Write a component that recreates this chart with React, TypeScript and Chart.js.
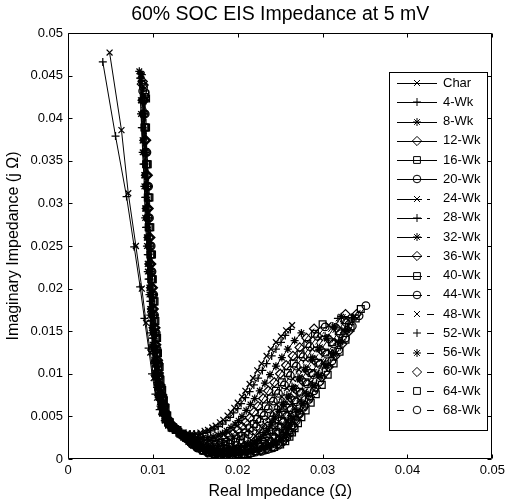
import React, { useEffect, useRef } from 'react';
import { Chart, registerables } from 'chart.js';
import { drawPoint } from 'chart.js/helpers';

Chart.register(...registerables);

const FONT = 'Arial, "Liberation Sans", Helvetica, sans-serif';

const TITLE = '60% SOC EIS Impedance at 5 mV';
const X_LABEL = 'Real Impedance (Ω)';
const Y_LABEL = 'Imaginary Impedance (j Ω)';

const X_TICKS = [0, 0.01, 0.02, 0.03, 0.04, 0.05];
const X_TICK_LABELS = ['0', '0.01', '0.02', '0.03', '0.04', '0.05'];
const Y_TICKS = [0, 0.005, 0.01, 0.015, 0.02, 0.025, 0.03, 0.035, 0.04, 0.045, 0.05];
const Y_TICK_LABELS = ['0', '0.005', '0.01', '0.015', '0.02', '0.025', '0.03', '0.035', '0.04', '0.045', '0.05'];

type Pt = [number, number];

const CHAR: Pt[] = [[0.0049,0.0477],[0.0063,0.0386],[0.0071,0.0312],[0.0080,0.0250],[0.0087,0.0200],[0.0092,0.0160],[0.0097,0.0125],[0.0101,0.0095],[0.0105,0.0072],[0.0110,0.0055],[0.0117,0.0043],[0.0126,0.0035],[0.0131,0.0033],[0.0136,0.0031],[0.0141,0.0030],[0.0146,0.0030],[0.0151,0.0030],[0.0156,0.0031],[0.0161,0.0033],[0.0165,0.0034],[0.0170,0.0037],[0.0174,0.0039],[0.0179,0.0043],[0.0183,0.0046],[0.0188,0.0051],[0.0192,0.0055],[0.0196,0.0060],[0.0200,0.0066],[0.0205,0.0073],[0.0209,0.0080],[0.0214,0.0088],[0.0218,0.0095],[0.0223,0.0104],[0.0228,0.0112],[0.0234,0.0121],[0.0239,0.0129],[0.0245,0.0137],[0.0251,0.0144],[0.0257,0.0151],[0.0264,0.0157]];
const WK4: Pt[] = [[0.0041,0.0466],[0.0056,0.0379],[0.0069,0.0308],[0.0078,0.0249],[0.0085,0.0202],[0.0090,0.0165],[0.0095,0.0130],[0.0099,0.0100],[0.0103,0.0076],[0.0108,0.0058],[0.0115,0.0045],[0.0124,0.0036],[0.0129,0.0033],[0.0134,0.0031],[0.0139,0.0030],[0.0144,0.0029],[0.0149,0.0029],[0.0154,0.0029],[0.0159,0.0030],[0.0164,0.0031],[0.0168,0.0033],[0.0173,0.0035],[0.0177,0.0038],[0.0182,0.0041],[0.0186,0.0045],[0.0191,0.0049],[0.0195,0.0054],[0.0200,0.0059],[0.0204,0.0065],[0.0209,0.0072],[0.0214,0.0079],[0.0219,0.0087],[0.0224,0.0095],[0.0229,0.0104],[0.0234,0.0112],[0.0240,0.0121],[0.0245,0.0129],[0.0251,0.0137],[0.0256,0.0145],[0.0262,0.0152]];
const WK8: Pt[] = [[0.0084,0.0455],[0.0086,0.0405],[0.0088,0.0360],[0.0090,0.0320],[0.0091,0.0283],[0.0093,0.0250],[0.0094,0.0220],[0.0096,0.0193],[0.0097,0.0169],[0.0099,0.0148],[0.0100,0.0129],[0.0102,0.0112],[0.0103,0.0097],[0.0105,0.0084],[0.0107,0.0072],[0.0109,0.0062],[0.0111,0.0053],[0.0114,0.0045],[0.0118,0.0039],[0.0123,0.0035],[0.0130,0.0031],[0.0135,0.0029],[0.0141,0.0027],[0.0147,0.0026],[0.0153,0.0025],[0.0159,0.0025],[0.0165,0.0025],[0.0171,0.0026],[0.0177,0.0028],[0.0182,0.0030],[0.0187,0.0033],[0.0192,0.0037],[0.0197,0.0041],[0.0201,0.0045],[0.0205,0.0050],[0.0210,0.0057],[0.0215,0.0064],[0.0220,0.0071],[0.0226,0.0080],[0.0232,0.0089],[0.0238,0.0099],[0.0245,0.0109],[0.0252,0.0119],[0.0259,0.0129],[0.0267,0.0139],[0.0275,0.0148]];
const WK12: Pt[] = [[0.0087,0.0440],[0.0088,0.0421],[0.0090,0.0374],[0.0092,0.0333],[0.0093,0.0294],[0.0095,0.0260],[0.0096,0.0229],[0.0098,0.0201],[0.0099,0.0176],[0.0101,0.0154],[0.0102,0.0134],[0.0104,0.0116],[0.0105,0.0101],[0.0107,0.0087],[0.0109,0.0075],[0.0111,0.0064],[0.0113,0.0055],[0.0116,0.0047],[0.0120,0.0041],[0.0125,0.0036],[0.0131,0.0031],[0.0136,0.0028],[0.0142,0.0026],[0.0148,0.0024],[0.0154,0.0023],[0.0160,0.0022],[0.0166,0.0021],[0.0172,0.0021],[0.0178,0.0022],[0.0184,0.0024],[0.0190,0.0027],[0.0195,0.0030],[0.0200,0.0034],[0.0205,0.0038],[0.0209,0.0043],[0.0214,0.0048],[0.0219,0.0055],[0.0224,0.0062],[0.0230,0.0071],[0.0236,0.0080],[0.0243,0.0090],[0.0250,0.0100],[0.0257,0.0110],[0.0265,0.0121],[0.0273,0.0131],[0.0281,0.0142],[0.0290,0.0153]];
const WK16: Pt[] = [[0.0090,0.0425],[0.0090,0.0389],[0.0092,0.0346],[0.0094,0.0307],[0.0095,0.0272],[0.0097,0.0240],[0.0098,0.0211],[0.0100,0.0185],[0.0101,0.0162],[0.0103,0.0142],[0.0104,0.0124],[0.0106,0.0108],[0.0107,0.0093],[0.0109,0.0081],[0.0111,0.0069],[0.0113,0.0060],[0.0115,0.0051],[0.0118,0.0043],[0.0122,0.0037],[0.0127,0.0034],[0.0133,0.0030],[0.0138,0.0027],[0.0144,0.0024],[0.0150,0.0022],[0.0156,0.0020],[0.0162,0.0019],[0.0168,0.0018],[0.0174,0.0018],[0.0180,0.0019],[0.0186,0.0020],[0.0192,0.0022],[0.0198,0.0024],[0.0204,0.0027],[0.0209,0.0031],[0.0214,0.0036],[0.0219,0.0041],[0.0223,0.0047],[0.0228,0.0054],[0.0233,0.0062],[0.0239,0.0071],[0.0245,0.0080],[0.0252,0.0090],[0.0259,0.0101],[0.0266,0.0112],[0.0274,0.0123],[0.0282,0.0135],[0.0291,0.0147],[0.0300,0.0158]];
const WK20: Pt[] = [[0.0088,0.0432],[0.0089,0.0405],[0.0091,0.0360],[0.0093,0.0320],[0.0094,0.0283],[0.0096,0.0250],[0.0097,0.0220],[0.0099,0.0193],[0.0100,0.0169],[0.0102,0.0148],[0.0103,0.0129],[0.0105,0.0112],[0.0106,0.0097],[0.0108,0.0084],[0.0110,0.0072],[0.0112,0.0062],[0.0114,0.0053],[0.0117,0.0045],[0.0121,0.0039],[0.0126,0.0035],[0.0132,0.0030],[0.0137,0.0027],[0.0143,0.0024],[0.0149,0.0021],[0.0155,0.0019],[0.0161,0.0017],[0.0167,0.0016],[0.0173,0.0016],[0.0179,0.0016],[0.0185,0.0017],[0.0191,0.0018],[0.0197,0.0020],[0.0203,0.0022],[0.0208,0.0025],[0.0213,0.0029],[0.0218,0.0033],[0.0222,0.0038],[0.0226,0.0044],[0.0231,0.0051],[0.0236,0.0059],[0.0242,0.0068],[0.0248,0.0077],[0.0255,0.0087],[0.0262,0.0098],[0.0269,0.0109],[0.0277,0.0120],[0.0285,0.0132],[0.0294,0.0144],[0.0303,0.0155]];
const WK24: Pt[] = [[0.0085,0.0450],[0.0086,0.0421],[0.0088,0.0374],[0.0090,0.0333],[0.0091,0.0294],[0.0093,0.0260],[0.0094,0.0229],[0.0096,0.0201],[0.0097,0.0176],[0.0099,0.0154],[0.0100,0.0134],[0.0102,0.0116],[0.0103,0.0101],[0.0105,0.0087],[0.0107,0.0075],[0.0109,0.0064],[0.0111,0.0055],[0.0114,0.0047],[0.0118,0.0041],[0.0123,0.0036],[0.0130,0.0030],[0.0135,0.0027],[0.0141,0.0024],[0.0147,0.0021],[0.0153,0.0018],[0.0159,0.0015],[0.0165,0.0014],[0.0171,0.0013],[0.0177,0.0013],[0.0184,0.0014],[0.0190,0.0014],[0.0197,0.0015],[0.0204,0.0017],[0.0210,0.0019],[0.0216,0.0022],[0.0221,0.0027],[0.0225,0.0031],[0.0229,0.0036],[0.0232,0.0041],[0.0236,0.0048],[0.0241,0.0056],[0.0246,0.0064],[0.0252,0.0073],[0.0258,0.0083],[0.0265,0.0094],[0.0272,0.0105],[0.0280,0.0117],[0.0288,0.0129],[0.0297,0.0142],[0.0307,0.0157]];
const WK28: Pt[] = [[0.0085,0.0447],[0.0087,0.0389],[0.0089,0.0346],[0.0091,0.0307],[0.0092,0.0272],[0.0094,0.0240],[0.0095,0.0211],[0.0097,0.0185],[0.0098,0.0162],[0.0100,0.0142],[0.0101,0.0124],[0.0103,0.0108],[0.0104,0.0093],[0.0106,0.0081],[0.0108,0.0069],[0.0110,0.0060],[0.0112,0.0051],[0.0115,0.0043],[0.0119,0.0037],[0.0124,0.0034],[0.0131,0.0030],[0.0136,0.0027],[0.0142,0.0023],[0.0148,0.0020],[0.0154,0.0017],[0.0160,0.0014],[0.0166,0.0013],[0.0173,0.0012],[0.0180,0.0012],[0.0187,0.0012],[0.0194,0.0013],[0.0201,0.0015],[0.0208,0.0016],[0.0215,0.0019],[0.0220,0.0022],[0.0225,0.0026],[0.0230,0.0031],[0.0234,0.0036],[0.0238,0.0043],[0.0242,0.0050],[0.0247,0.0058],[0.0252,0.0066],[0.0258,0.0075],[0.0264,0.0085],[0.0271,0.0096],[0.0278,0.0107],[0.0286,0.0119],[0.0294,0.0131],[0.0303,0.0144],[0.0312,0.0156],[0.0318,0.0165]];
const WK32: Pt[] = [[0.0086,0.0452],[0.0088,0.0405],[0.0090,0.0360],[0.0092,0.0320],[0.0093,0.0283],[0.0095,0.0250],[0.0096,0.0220],[0.0098,0.0193],[0.0099,0.0169],[0.0101,0.0148],[0.0102,0.0129],[0.0104,0.0112],[0.0105,0.0097],[0.0107,0.0084],[0.0109,0.0072],[0.0111,0.0062],[0.0113,0.0053],[0.0116,0.0045],[0.0120,0.0039],[0.0125,0.0035],[0.0132,0.0029],[0.0137,0.0026],[0.0143,0.0022],[0.0149,0.0018],[0.0155,0.0015],[0.0161,0.0013],[0.0168,0.0011],[0.0175,0.0010],[0.0182,0.0010],[0.0189,0.0011],[0.0196,0.0012],[0.0203,0.0013],[0.0210,0.0015],[0.0217,0.0017],[0.0222,0.0020],[0.0227,0.0024],[0.0232,0.0029],[0.0236,0.0034],[0.0240,0.0041],[0.0244,0.0048],[0.0249,0.0056],[0.0254,0.0064],[0.0260,0.0073],[0.0266,0.0083],[0.0273,0.0094],[0.0280,0.0105],[0.0288,0.0117],[0.0296,0.0129],[0.0305,0.0142],[0.0314,0.0155],[0.0322,0.0167]];
const WK36: Pt[] = [[0.0088,0.0443],[0.0089,0.0421],[0.0091,0.0374],[0.0093,0.0333],[0.0094,0.0294],[0.0096,0.0260],[0.0097,0.0229],[0.0099,0.0201],[0.0100,0.0176],[0.0102,0.0154],[0.0103,0.0134],[0.0105,0.0116],[0.0106,0.0101],[0.0108,0.0087],[0.0110,0.0075],[0.0112,0.0064],[0.0114,0.0055],[0.0117,0.0047],[0.0121,0.0041],[0.0126,0.0036],[0.0133,0.0029],[0.0138,0.0026],[0.0144,0.0022],[0.0150,0.0018],[0.0156,0.0014],[0.0162,0.0012],[0.0169,0.0010],[0.0176,0.0009],[0.0183,0.0009],[0.0190,0.0010],[0.0197,0.0011],[0.0204,0.0012],[0.0211,0.0014],[0.0218,0.0016],[0.0224,0.0018],[0.0229,0.0022],[0.0234,0.0027],[0.0238,0.0033],[0.0242,0.0040],[0.0246,0.0047],[0.0251,0.0055],[0.0256,0.0063],[0.0262,0.0072],[0.0268,0.0082],[0.0275,0.0093],[0.0282,0.0104],[0.0290,0.0116],[0.0298,0.0128],[0.0307,0.0141],[0.0316,0.0154],[0.0327,0.0170]];
const WK40: Pt[] = [[0.0091,0.0428],[0.0091,0.0389],[0.0093,0.0346],[0.0095,0.0307],[0.0096,0.0272],[0.0098,0.0240],[0.0099,0.0211],[0.0101,0.0185],[0.0102,0.0162],[0.0104,0.0142],[0.0105,0.0124],[0.0107,0.0108],[0.0108,0.0093],[0.0110,0.0081],[0.0112,0.0069],[0.0114,0.0060],[0.0116,0.0051],[0.0119,0.0043],[0.0123,0.0037],[0.0128,0.0034],[0.0134,0.0029],[0.0139,0.0025],[0.0145,0.0021],[0.0151,0.0017],[0.0157,0.0013],[0.0163,0.0011],[0.0170,0.0009],[0.0177,0.0008],[0.0184,0.0008],[0.0191,0.0008],[0.0198,0.0009],[0.0205,0.0010],[0.0212,0.0012],[0.0219,0.0013],[0.0226,0.0015],[0.0232,0.0018],[0.0237,0.0021],[0.0241,0.0026],[0.0245,0.0032],[0.0248,0.0038],[0.0252,0.0045],[0.0256,0.0052],[0.0261,0.0060],[0.0267,0.0069],[0.0273,0.0079],[0.0280,0.0090],[0.0287,0.0101],[0.0295,0.0113],[0.0303,0.0125],[0.0311,0.0137],[0.0319,0.0150],[0.0326,0.0163]];
const WK44: Pt[] = [[0.0089,0.0436],[0.0090,0.0405],[0.0092,0.0360],[0.0094,0.0320],[0.0095,0.0283],[0.0097,0.0250],[0.0098,0.0220],[0.0100,0.0193],[0.0101,0.0169],[0.0103,0.0148],[0.0104,0.0129],[0.0106,0.0112],[0.0107,0.0097],[0.0109,0.0084],[0.0111,0.0072],[0.0113,0.0062],[0.0115,0.0053],[0.0118,0.0045],[0.0122,0.0039],[0.0127,0.0035],[0.0133,0.0029],[0.0138,0.0025],[0.0144,0.0020],[0.0150,0.0016],[0.0156,0.0013],[0.0163,0.0010],[0.0170,0.0008],[0.0177,0.0007],[0.0184,0.0007],[0.0191,0.0007],[0.0198,0.0008],[0.0205,0.0009],[0.0212,0.0010],[0.0219,0.0012],[0.0226,0.0014],[0.0233,0.0016],[0.0239,0.0020],[0.0244,0.0025],[0.0248,0.0031],[0.0251,0.0037],[0.0254,0.0043],[0.0258,0.0050],[0.0263,0.0058],[0.0269,0.0067],[0.0275,0.0077],[0.0282,0.0088],[0.0289,0.0099],[0.0297,0.0111],[0.0305,0.0123],[0.0313,0.0135],[0.0321,0.0147],[0.0328,0.0160]];
const WK48: Pt[] = [[0.0086,0.0449],[0.0087,0.0421],[0.0089,0.0374],[0.0091,0.0333],[0.0092,0.0294],[0.0094,0.0260],[0.0095,0.0229],[0.0097,0.0201],[0.0098,0.0176],[0.0100,0.0154],[0.0101,0.0134],[0.0103,0.0116],[0.0104,0.0101],[0.0106,0.0087],[0.0108,0.0075],[0.0110,0.0064],[0.0112,0.0055],[0.0115,0.0047],[0.0119,0.0041],[0.0124,0.0036],[0.0131,0.0029],[0.0136,0.0025],[0.0142,0.0020],[0.0148,0.0016],[0.0154,0.0012],[0.0161,0.0009],[0.0168,0.0007],[0.0175,0.0006],[0.0182,0.0006],[0.0189,0.0006],[0.0196,0.0007],[0.0203,0.0008],[0.0210,0.0009],[0.0217,0.0011],[0.0224,0.0013],[0.0231,0.0015],[0.0237,0.0018],[0.0243,0.0022],[0.0248,0.0027],[0.0252,0.0033],[0.0255,0.0039],[0.0258,0.0045],[0.0262,0.0052],[0.0267,0.0060],[0.0273,0.0069],[0.0279,0.0079],[0.0286,0.0090],[0.0293,0.0101],[0.0301,0.0113],[0.0309,0.0125],[0.0317,0.0138],[0.0324,0.0151],[0.0330,0.0163]];
const WK52: Pt[] = [[0.0087,0.0444],[0.0088,0.0389],[0.0090,0.0346],[0.0092,0.0307],[0.0093,0.0272],[0.0095,0.0240],[0.0096,0.0211],[0.0098,0.0185],[0.0099,0.0162],[0.0101,0.0142],[0.0102,0.0124],[0.0104,0.0108],[0.0105,0.0093],[0.0107,0.0081],[0.0109,0.0069],[0.0111,0.0060],[0.0113,0.0051],[0.0116,0.0043],[0.0120,0.0037],[0.0125,0.0034],[0.0132,0.0029],[0.0137,0.0025],[0.0143,0.0019],[0.0149,0.0015],[0.0155,0.0012],[0.0162,0.0009],[0.0169,0.0007],[0.0176,0.0006],[0.0183,0.0006],[0.0190,0.0006],[0.0197,0.0007],[0.0204,0.0007],[0.0211,0.0008],[0.0218,0.0010],[0.0225,0.0012],[0.0232,0.0014],[0.0239,0.0017],[0.0245,0.0021],[0.0250,0.0026],[0.0254,0.0031],[0.0257,0.0037],[0.0260,0.0043],[0.0264,0.0050],[0.0269,0.0058],[0.0275,0.0067],[0.0281,0.0077],[0.0288,0.0088],[0.0295,0.0099],[0.0303,0.0111],[0.0311,0.0124],[0.0319,0.0138],[0.0327,0.0152],[0.0334,0.0166]];
const WK56: Pt[] = [[0.0087,0.0451],[0.0089,0.0405],[0.0091,0.0360],[0.0093,0.0320],[0.0094,0.0283],[0.0096,0.0250],[0.0097,0.0220],[0.0099,0.0193],[0.0100,0.0169],[0.0102,0.0148],[0.0103,0.0129],[0.0105,0.0112],[0.0106,0.0097],[0.0108,0.0084],[0.0110,0.0072],[0.0112,0.0062],[0.0114,0.0053],[0.0117,0.0045],[0.0121,0.0039],[0.0126,0.0035],[0.0133,0.0028],[0.0138,0.0024],[0.0144,0.0019],[0.0150,0.0015],[0.0156,0.0011],[0.0163,0.0008],[0.0170,0.0006],[0.0177,0.0005],[0.0184,0.0005],[0.0191,0.0005],[0.0198,0.0006],[0.0205,0.0007],[0.0212,0.0008],[0.0219,0.0010],[0.0226,0.0011],[0.0233,0.0013],[0.0240,0.0016],[0.0246,0.0019],[0.0252,0.0024],[0.0256,0.0029],[0.0259,0.0035],[0.0262,0.0041],[0.0266,0.0048],[0.0271,0.0056],[0.0277,0.0065],[0.0283,0.0075],[0.0290,0.0086],[0.0297,0.0098],[0.0305,0.0110],[0.0313,0.0123],[0.0321,0.0137],[0.0329,0.0151],[0.0336,0.0166]];
const WK60: Pt[] = [[0.0089,0.0439],[0.0090,0.0421],[0.0092,0.0374],[0.0094,0.0333],[0.0095,0.0294],[0.0097,0.0260],[0.0098,0.0229],[0.0100,0.0201],[0.0101,0.0176],[0.0103,0.0154],[0.0104,0.0134],[0.0106,0.0116],[0.0107,0.0101],[0.0109,0.0087],[0.0111,0.0075],[0.0113,0.0064],[0.0115,0.0055],[0.0118,0.0047],[0.0122,0.0041],[0.0127,0.0036],[0.0134,0.0028],[0.0139,0.0024],[0.0145,0.0018],[0.0151,0.0014],[0.0157,0.0011],[0.0164,0.0008],[0.0171,0.0006],[0.0178,0.0005],[0.0185,0.0005],[0.0192,0.0005],[0.0199,0.0006],[0.0206,0.0006],[0.0213,0.0007],[0.0220,0.0009],[0.0227,0.0010],[0.0234,0.0012],[0.0241,0.0014],[0.0248,0.0018],[0.0254,0.0022],[0.0258,0.0027],[0.0261,0.0033],[0.0264,0.0039],[0.0268,0.0046],[0.0273,0.0054],[0.0279,0.0063],[0.0285,0.0073],[0.0292,0.0084],[0.0299,0.0096],[0.0307,0.0108],[0.0315,0.0121],[0.0323,0.0135],[0.0331,0.0150],[0.0340,0.0170]];
const WK64: Pt[] = [[0.0092,0.0423],[0.0092,0.0389],[0.0094,0.0346],[0.0096,0.0307],[0.0097,0.0272],[0.0099,0.0240],[0.0100,0.0211],[0.0102,0.0185],[0.0103,0.0162],[0.0105,0.0142],[0.0106,0.0124],[0.0108,0.0108],[0.0109,0.0093],[0.0111,0.0081],[0.0113,0.0069],[0.0115,0.0060],[0.0117,0.0051],[0.0120,0.0043],[0.0124,0.0037],[0.0129,0.0034],[0.0136,0.0028],[0.0141,0.0024],[0.0147,0.0018],[0.0153,0.0014],[0.0159,0.0010],[0.0166,0.0008],[0.0173,0.0006],[0.0180,0.0005],[0.0187,0.0005],[0.0194,0.0005],[0.0201,0.0006],[0.0208,0.0006],[0.0215,0.0007],[0.0222,0.0009],[0.0229,0.0010],[0.0236,0.0012],[0.0243,0.0014],[0.0250,0.0017],[0.0256,0.0021],[0.0261,0.0026],[0.0264,0.0031],[0.0267,0.0036],[0.0271,0.0042],[0.0275,0.0049],[0.0280,0.0057],[0.0286,0.0066],[0.0292,0.0076],[0.0299,0.0087],[0.0306,0.0099],[0.0313,0.0112],[0.0320,0.0126],[0.0327,0.0140],[0.0333,0.0154],[0.0339,0.0165],[0.0345,0.0176]];
const WK68: Pt[] = [[0.0091,0.0430],[0.0091,0.0405],[0.0093,0.0360],[0.0095,0.0320],[0.0096,0.0283],[0.0098,0.0250],[0.0099,0.0220],[0.0101,0.0193],[0.0102,0.0169],[0.0104,0.0148],[0.0105,0.0129],[0.0107,0.0112],[0.0108,0.0097],[0.0110,0.0084],[0.0112,0.0072],[0.0114,0.0062],[0.0116,0.0053],[0.0119,0.0045],[0.0123,0.0039],[0.0128,0.0035],[0.0135,0.0028],[0.0140,0.0024],[0.0146,0.0018],[0.0152,0.0013],[0.0158,0.0010],[0.0165,0.0007],[0.0172,0.0005],[0.0179,0.0004],[0.0186,0.0004],[0.0193,0.0004],[0.0200,0.0005],[0.0207,0.0005],[0.0214,0.0006],[0.0221,0.0008],[0.0228,0.0009],[0.0235,0.0011],[0.0242,0.0013],[0.0248,0.0016],[0.0253,0.0020],[0.0258,0.0025],[0.0262,0.0031],[0.0266,0.0038],[0.0269,0.0045],[0.0273,0.0053],[0.0278,0.0061],[0.0284,0.0070],[0.0290,0.0080],[0.0297,0.0091],[0.0304,0.0103],[0.0311,0.0115],[0.0319,0.0128],[0.0327,0.0142],[0.0335,0.0156],[0.0343,0.0168],[0.0351,0.0180]];

const SERIES_DATA: Pt[][] = [CHAR, WK4, WK8, WK12, WK16, WK20, WK24, WK28, WK32, WK36, WK40, WK44, WK48, WK52, WK56, WK60, WK64, WK68];
const SERIES_NAMES = ['Char', '4-Wk', '8-Wk', '12-Wk', '16-Wk', '20-Wk', '24-Wk', '28-Wk', '32-Wk', '36-Wk', '40-Wk', '44-Wk', '48-Wk', '52-Wk', '56-Wk', '60-Wk', '64-Wk', '68-Wk'];
const MARKER_CYCLE = ['crossRot', 'cross', 'star', 'rectRot', 'rect', 'circle'];
const LINE_STYLE_GROUPS = ['solid', 'dashdot', 'dashed'];

const markerRadius = (m: string) =>
  m === 'rect' ? 4.8 : m === 'circle' ? 3.8 : m === 'rectRot' ? 4.6 : m === 'crossRot' ? 4.2 : 4;
const dashFor = (s: string) => (s === 'dashdot' ? [10, 3, 2, 3] : s === 'dashed' ? [6, 4] : []);

const TICK_LEN = 4;

const framePlugin = {
  id: 'matlabFrame',
  afterDatasetsDraw(chart: any) {
    const { ctx, chartArea, scales } = chart;
    const L = Math.round(chartArea.left) + 0.5;
    const R = Math.round(chartArea.right) - 0.5;
    const T = Math.round(chartArea.top) + 0.5;
    const B = Math.round(chartArea.bottom) - 0.5;
    ctx.save();
    ctx.strokeStyle = '#000';
    ctx.lineWidth = 1;
    ctx.setLineDash([]);
    ctx.beginPath();
    ctx.rect(L, T, R - L, B - T);
    X_TICKS.forEach((v) => {
      const px = Math.round(scales.x.getPixelForValue(v)) + 0.5;
      ctx.moveTo(px, B);
      ctx.lineTo(px, B - TICK_LEN);
      ctx.moveTo(px, T);
      ctx.lineTo(px, T + TICK_LEN);
    });
    Y_TICKS.forEach((v) => {
      const py = Math.round(scales.y.getPixelForValue(v)) + 0.5;
      ctx.moveTo(L, py);
      ctx.lineTo(L + TICK_LEN, py);
      ctx.moveTo(R, py);
      ctx.lineTo(R - TICK_LEN, py);
    });
    ctx.stroke();
    ctx.restore();
  },
};

const legendPlugin = {
  id: 'insideLegend',
  afterDraw(chart: any) {
    const { ctx, chartArea } = chart;
    const L = Math.round(chartArea.right) - 103;
    const T = Math.round(chartArea.top) + 39;
    const W = 98;
    const H = 358;
    ctx.save();
    ctx.setLineDash([]);
    ctx.fillStyle = '#fff';
    ctx.fillRect(L, T, W, H);
    ctx.strokeStyle = '#000';
    ctx.lineWidth = 1;
    ctx.strokeRect(L + 0.5, T + 0.5, W, H);
    chart.data.datasets.forEach((ds: any, i: number) => {
      const y = T + 11 + i * 19.25;
      const yy = Math.round(y) + 0.5;
      const style = ds.lineStyleName;
      const segs =
        style === 'solid' ? [[0, 40]] : style === 'dashdot' ? [[0, 25], [30, 33]] : [[0, 7], [30, 37]];
      ctx.strokeStyle = '#000';
      ctx.lineWidth = 1;
      ctx.beginPath();
      segs.forEach(([a, b]) => {
        ctx.moveTo(L + 8 + a, yy);
        ctx.lineTo(L + 8 + b, yy);
      });
      ctx.stroke();
      ctx.fillStyle = 'rgba(0,0,0,0)';
      drawPoint(ctx, { pointStyle: ds.pointStyle, radius: ds.pointRadius, rotation: 0, borderWidth: 1 } as any, L + 28, Math.round(y));
      ctx.fillStyle = '#000';
      ctx.font = `13px ${FONT}`;
      ctx.textAlign = 'left';
      ctx.textBaseline = 'middle';
      ctx.fillText(ds.label, L + 54, y);
    });
    ctx.restore();
  },
};

export default function App() {
  const ref = useRef<HTMLCanvasElement>(null);
  useEffect(() => {
    document.body.style.margin = '0';
    const datasets = SERIES_DATA.map((pts, i) => {
      const marker = MARKER_CYCLE[i % 6];
      const style = LINE_STYLE_GROUPS[Math.floor(i / 6)];
      return {
        label: SERIES_NAMES[i],
        data: pts.map(([x, y]) => ({ x, y })),
        showLine: true,
        borderColor: '#000',
        borderWidth: 1,
        borderDash: dashFor(style),
        pointStyle: marker,
        pointRadius: markerRadius(marker),
        pointBorderColor: '#000',
        pointBackgroundColor: 'rgba(0,0,0,0)',
        pointBorderWidth: 1.25,
        tension: 0,
        fill: false,
        lineStyleName: style,
      };
    });
    const chart = new Chart(ref.current as HTMLCanvasElement, {
      type: 'scatter',
      data: { datasets } as any,
      options: {
        responsive: false,
        animation: false,
        events: [],
        layout: { padding: { left: 0, right: 14, top: 0, bottom: 0 } },
        plugins: {
          legend: { display: false },
          tooltip: { enabled: false },
          title: {
            display: true,
            fullSize: false,
            text: TITLE,
            color: '#000',
            font: { family: FONT, size: 19.5, weight: 'normal', lineHeight: 1.2 },
            padding: { top: 3.3, bottom: 6.3 },
          },
        },
        scales: {
          x: {
            type: 'linear',
            min: 0,
            max: 0.05,
            grid: { display: false, drawTicks: false },
            border: { display: false },
            ticks: {
              color: '#000',
              font: { family: FONT, size: 13 },
              padding: 4,
              autoSkip: false,
              maxRotation: 0,
              callback: (_v: any, i: number) => X_TICK_LABELS[i],
            },
            afterBuildTicks: (s: any) => {
              s.ticks = X_TICKS.map((value) => ({ value }));
            },
            afterFit: (s: any) => {
              s.height = 43;
            },
            title: {
              display: true,
              text: X_LABEL,
              color: '#000',
              font: { family: FONT, size: 16, lineHeight: 1.2 },
              padding: { top: 0, bottom: 1 },
            },
          },
          y: {
            type: 'linear',
            min: 0,
            max: 0.05,
            grid: { display: false, drawTicks: false },
            border: { display: false },
            ticks: {
              color: '#000',
              font: { family: FONT, size: 13 },
              padding: 5,
              autoSkip: false,
              callback: (_v: any, i: number) => Y_TICK_LABELS[i],
            },
            afterBuildTicks: (s: any) => {
              s.ticks = Y_TICKS.map((value) => ({ value }));
            },
            afterFit: (s: any) => {
              s.width = 68;
            },
            title: {
              display: true,
              text: Y_LABEL,
              color: '#000',
              font: { family: FONT, size: 16, lineHeight: 1.2 },
              padding: { top: 4, bottom: 0 },
            },
          },
        },
      } as any,
      plugins: [framePlugin, legendPlugin],
    });
    return () => chart.destroy();
  }, []);
  return (
    <div style={{ width: 509, height: 502, background: '#fff' }}>
      <canvas ref={ref} width={509} height={502} style={{ display: 'block' }} />
    </div>
  );
}
